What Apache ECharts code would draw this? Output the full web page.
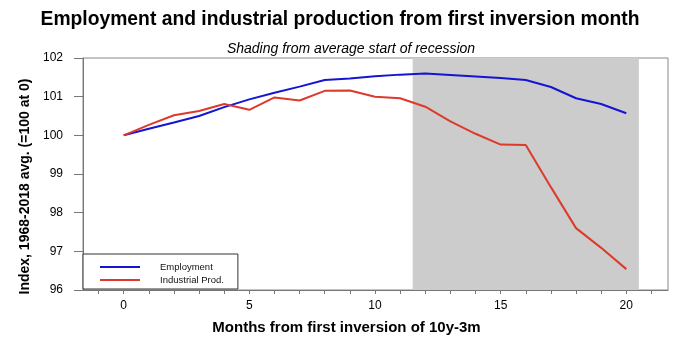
<!DOCTYPE html>
<html><head><meta charset="utf-8">
<script src="https://cdn.jsdelivr.net/npm/echarts@6/dist/echarts.min.js"></script>
<style>html,body{margin:0;padding:0;background:#fff}#c{width:680px;height:359px}</style>
</head><body><div id="c"></div>
<script>
const months = [0,1,2,3,4,5,6,7,8,9,10,11,12,13,14,15,16,17,18,19,20];
const employment = [100.0,100.17,100.33,100.5,100.73,100.93,101.1,101.26,101.43,101.47,101.53,101.57,101.6,101.56,101.52,101.48,101.43,101.25,100.96,100.81,100.57];
const industrialProd = [100.0,100.27,100.52,100.63,100.81,100.66,100.98,100.9,101.15,101.16,101.0,100.96,100.74,100.36,100.04,99.76,99.75,98.66,97.6,97.09,96.54];
const recessionShade = [11.5, 20.5];
const xTickLabels = [0,5,10,15,20];
const xTicks = [-1,0,1,2,3,4,5,6,7,8,9,10,11,12,13,14,15,16,17,18,19,20,21];
const yTickLabels = [96,97,98,99,100,101,102];

const chart = echarts.init(document.getElementById('c'));
const ff = 'Liberation Sans, Arial, sans-serif';
chart.setOption({
  animation:false,
  textStyle:{fontFamily:ff},
  title:[{text:'Employment and industrial production from first inversion month',left:'center',top:5,
    textStyle:{fontSize:19.3,fontWeight:'bold',color:'#000',fontFamily:ff}},
    {text:'Shading from average start of recession',left:346,textAlign:'center',top:37,
    textStyle:{fontSize:14,fontStyle:'italic',fontWeight:'normal',color:'#000',fontFamily:ff}}],
  grid:{left:83,right:12,top:58,bottom:69,show:true,borderColor:'#888',borderWidth:1,backgroundColor:'transparent'},
  legend:{orient:'vertical',left:83,top:254,itemWidth:40,itemHeight:2,itemGap:3,
    padding:[8,14,4,17],borderColor:'#333',borderWidth:1,backgroundColor:'#fff',
    icon:'rect',
    textStyle:{fontSize:9.5,color:'#111',padding:[0,0,0,15],fontFamily:ff},
    data:['Employment','Industrial Prod.']},
  xAxis:{type:'value',min:-1.62,max:21.66,
    name:'Months from first inversion of 10y-3m',nameLocation:'middle',nameGap:30,
    nameTextStyle:{fontSize:15,fontWeight:'bold',color:'#000',padding:[0,58,0,0]},
    axisLine:{lineStyle:{color:'#777'}},
    axisTick:{customValues:xTicks,length:4,lineStyle:{color:'#777'}},
    axisLabel:{customValues:xTickLabels,fontSize:12,color:'#000',margin:10},
    splitLine:{show:false}},
  yAxis:{type:'value',min:96,max:102,interval:1,
    name:'Index, 1968-2018 avg. (=100 at 0)',nameLocation:'middle',nameGap:50,
    nameTextStyle:{fontSize:14,fontWeight:'bold',color:'#000',padding:[0,25,0,0]},
    axisLine:{show:true,onZero:false,lineStyle:{color:'#777'}},
    axisTick:{show:true,length:9,lineStyle:{color:'#777'}},
    axisLabel:{fontSize:12,color:'#000',margin:20,customValues:yTickLabels},
    splitLine:{show:false}},
  series:[
    {name:'Employment',type:'line',data:months.map((m,i)=>[m,employment[i]]),
     symbol:'none',lineStyle:{color:'#1414d2',width:2},itemStyle:{color:'#1414d2'},z:3,
     markArea:{silent:true,itemStyle:{color:'#cccccc'},data:[[{xAxis:recessionShade[0]},{xAxis:recessionShade[1]}]]}},
    {name:'Industrial Prod.',type:'line',data:months.map((m,i)=>[m,industrialProd[i]]),
     symbol:'none',lineStyle:{color:'#dd3a2c',width:2},itemStyle:{color:'#dd3a2c'},z:3}
  ]
});
</script></body></html>
